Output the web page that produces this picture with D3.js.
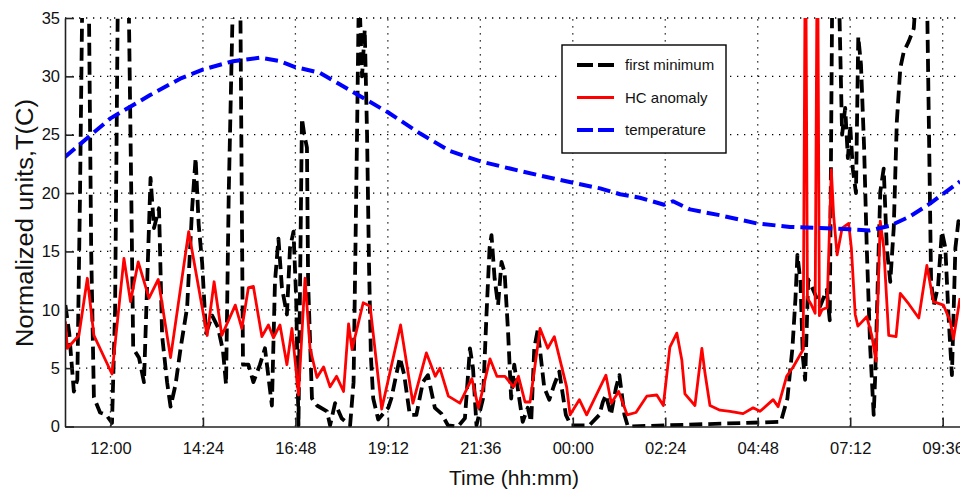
<!DOCTYPE html>
<html>
  <head>
    <meta charset="UTF-8">
    <title>First minimum / HC anomaly / temperature</title>
    <style>
      body {margin: 0; background: #fff;}
      svg {display: block; font-family: "Liberation Sans", Arial, sans-serif;}
      .grid line {stroke: #000; stroke-width: 1.3; stroke-dasharray: 1.3,5.7;}
      .axis path, .axis line {stroke: #222; stroke-width: 1.6;}
      .axis text {font-size: 16.5px; fill: #111; font-family: "Liberation Sans", Arial, sans-serif;}
      .label {font-size: 21px; fill: #111; text-anchor: middle;}
      .ylabel {font-size: 23.5px;}
      .legend text {font-size: 15px; fill: #111;}
    </style>
  </head>
  <body>
    <div id="chart"></div>
    <script src="https://d3js.org/d3.v7.min.js"></script>
    <script>

// time is clock hours counted from midnight of the first day (24+ = next day)
const xDomain = [10.82, 34.05];
const xTicks = [12, 14.4, 16.8, 19.2, 21.6, 24, 26.4, 28.8, 31.2, 33.6];
const yTicks = [0, 5, 10, 15, 20, 25, 30, 35];
const seriesNames = ["first minimum", "HC anomaly", "temperature"];

// temperature (blue dashed)
const tempTime = [10.82, 12.0, 13.03, 13.81, 14.41, 15.18, 15.88, 16.40, 16.79, 17.44, 17.96, 19.21, 20.04, 20.81, 21.62, 22.37, 23.15, 23.98, 24.71, 25.23, 25.74, 26.37, 26.60, 27.04, 27.82, 28.78, 29.64, 30.41, 31.17, 31.71, 32.23, 32.75, 33.27, 34.05];
const tempValue = [23.1, 26.4, 28.4, 29.8, 30.6, 31.3, 31.6, 31.3, 30.8, 30.3, 29.3, 26.9, 25.1, 23.6, 22.7, 22.1, 21.5, 20.9, 20.4, 19.9, 19.6, 19.0, 19.3, 18.6, 18.1, 17.4, 17.1, 17.0, 16.9, 16.8, 17.2, 18.0, 19.1, 21.0];

// HC anomaly (red)
const hcTime = [10.83, 10.88, 11.18, 11.40, 11.57, 12.04, 12.35, 12.52, 12.72, 13.00, 13.24, 13.56, 14.03, 14.51, 14.69, 14.89, 15.24, 15.41, 15.58, 15.71, 15.93, 16.10, 16.23, 16.40, 16.58, 16.71, 16.88, 17.05, 17.18, 17.36, 17.53, 17.70, 17.87, 18.05, 18.18, 18.27, 18.56, 18.74, 19.04, 19.53, 19.85, 20.20, 20.43, 20.55, 20.77, 21.07, 21.38, 21.55, 21.85, 22.03, 22.24, 22.46, 22.59, 22.76, 22.89, 23.15, 23.35, 23.52, 23.84, 23.93, 24.17, 24.36, 24.86, 25.00, 25.19, 25.41, 25.64, 25.92, 26.18, 26.35, 26.52, 26.70, 26.83, 26.91, 27.17, 27.35, 27.43, 27.56, 27.82, 28.08, 28.42, 28.68, 28.86, 29.20, 29.33, 29.55, 29.72, 29.98, 30.04, 30.09, 30.18, 30.29, 30.35, 30.40, 30.47, 30.60, 30.71, 30.77, 30.86, 30.99, 31.16, 31.23, 31.33, 31.40, 31.63, 31.76, 31.87, 31.98, 32.07, 32.20, 32.39, 32.50, 32.72, 32.98, 33.19, 33.36, 33.62, 33.80, 33.88, 34.05];
const hcValue = [9.0, 6.7, 7.8, 12.7, 7.8, 4.5, 14.4, 10.7, 14.1, 11.0, 12.6, 5.9, 16.7, 7.8, 12.4, 7.8, 10.4, 8.4, 11.9, 12.0, 7.7, 8.7, 7.6, 8.7, 5.3, 8.4, 2.7, 12.7, 6.7, 4.2, 5.1, 3.4, 4.3, 3.0, 8.8, 6.6, 10.6, 10.3, 1.5, 8.7, 2.0, 6.3, 4.3, 5.0, 2.6, 2.0, 4.1, 1.6, 5.8, 4.3, 4.3, 3.4, 4.3, 2.1, 2.1, 8.4, 6.7, 7.7, 3.4, 1.0, 2.3, 1.0, 4.4, 2.0, 3.0, 1.0, 1.2, 2.6, 2.7, 1.8, 6.8, 8.0, 5.7, 2.8, 1.8, 6.7, 4.6, 1.8, 1.4, 1.3, 1.1, 1.6, 1.3, 2.3, 1.7, 4.3, 5.1, 6.6, 45, 11.0, 10.5, 9.7, 45, 9.5, 10.0, 10.2, 22.0, 18.1, 14.7, 17.0, 17.4, 15.3, 9.6, 8.6, 9.4, 7.8, 5.6, 17.6, 15.3, 7.8, 7.7, 11.4, 10.5, 9.3, 13.8, 10.7, 10.4, 9.0, 7.5, 11.0];

// first minimum (black dashed)
const minTime = [10.83, 10.93, 11.05, 11.14, 11.21, 11.28, 11.43, 11.50, 11.57, 11.73, 11.89, 12.04, 12.12, 12.20, 12.46, 12.54, 12.59, 12.74, 12.87, 12.95, 13.04, 13.13, 13.26, 13.34, 13.47, 13.56, 13.69, 13.82, 13.99, 14.12, 14.21, 14.29, 14.38, 14.48, 14.64, 14.79, 14.92, 15.00, 15.07, 15.18, 15.37, 15.44, 15.58, 15.71, 15.88, 16.01, 16.19, 16.27, 16.36, 16.45, 16.58, 16.66, 16.75, 16.82, 16.88, 16.97, 17.03, 17.10, 17.13, 17.23, 17.36, 17.62, 17.70, 17.83, 18.00, 18.22, 18.31, 18.40, 18.45, 18.53, 18.60, 18.66, 18.71, 18.76, 18.82, 18.95, 19.21, 19.29, 19.51, 19.62, 19.77, 19.94, 20.11, 20.24, 20.42, 20.59, 20.76, 21.02, 21.20, 21.33, 21.41, 21.50, 21.67, 21.76, 21.84, 21.89, 21.97, 22.06, 22.15, 22.23, 22.32, 22.40, 22.48, 22.61, 22.70, 22.83, 22.92, 23.00, 23.09, 23.26, 23.39, 23.52, 23.65, 23.82, 23.95, 24.43, 24.69, 24.78, 24.86, 24.99, 25.12, 25.21, 25.34, 25.43, 29.40, 29.57, 29.70, 29.78, 29.83, 29.91, 29.97, 30.03, 30.11, 30.24, 30.42, 30.59, 30.67, 30.74, 30.89, 30.99, 31.07, 31.14, 31.20, 31.27, 31.35, 31.41, 31.48, 31.56, 31.63, 31.72, 31.81, 31.85, 31.98, 32.07, 32.15, 32.24, 32.33, 32.41, 32.50, 32.59, 32.72, 32.85, 32.93, 33.19, 33.30, 33.37, 33.48, 33.58, 33.67, 33.75, 33.84, 33.93, 34.01, 34.05];
const minValue = [10.4, 8.0, 3.0, 4.0, 20, 40, 40, 15, 2.5, 1.2, 1.0, 0.3, 10, 40, 40, 20, 6.7, 5.9, 3.8, 12, 21.3, 17, 18.7, 7.8, 3.8, 1.7, 3.6, 6.7, 10.2, 18.7, 23.0, 17.3, 14.0, 8.0, 9.5, 8.5, 6.5, 3.6, 20, 37, 37, 5.3, 5.3, 3.8, 5.3, 6.7, 1.8, 12.4, 16.1, 11.9, 9.6, 15.3, 16.7, 11.0, 0.1, 26.4, 25.0, 23.9, 12.4, 2.4, 1.8, 1.3, 0.1, 2.0, 0.7, 0.1, 3.8, 25, 38, 30, 34, 25, 14, 6, 2.4, 0.6, 1.6, 2.4, 5.9, 4.5, 1.0, 1.0, 3.8, 4.4, 1.6, 1.1, 0.1, 0, 0.7, 6.7, 5.0, 0.1, 2.4, 9.6, 15.3, 16.4, 12.7, 10.4, 14.1, 13.2, 8.1, 2.4, 5.3, 2.4, 0.4, 1.6, 0.4, 6.7, 8.3, 3.3, 2.3, 3.6, 4.7, 1.0, 0.1, 0.1, 1.0, 2.1, 2.7, 1.0, 3.3, 4.4, 1.0, 0, 0.4, 2.4, 6.7, 11.0, 14.7, 12.4, 6.0, 4.0, 12.6, 11.7, 10.3, 11.7, 9.1, 40, 40, 25.0, 27.3, 23, 25.8, 22, 20, 33.4, 31, 24, 15.3, 6.7, 1.0, 4.4, 20.1, 22.1, 15.3, 12.4, 17.0, 26.1, 30.7, 32.1, 33.0, 34.1, 38, 38, 12.4, 10.4, 12, 16.7, 15.3, 9.6, 4.4, 15.3, 17.6, 17.0];

const width = 960, height = 493;
const margin = {left: 65, right: 0, top: 18, bottom: 66.5};

const svg = d3.select("#chart").append("svg").attr("width", width).attr("height", height);
svg.append("rect").attr("width", width).attr("height", height).attr("fill", "#fff");

const x = d3.scaleLinear().domain(xDomain).range([margin.left, width - margin.right]);
const y = d3.scaleLinear().domain([0, 35]).range([height - margin.bottom, margin.top]);

function hhmm(h) {
  const m = Math.round(h * 60) % 1440;
  return String(Math.floor(m / 60)).padStart(2, "0") + ":" + String(m % 60).padStart(2, "0");
}

// dotted grid
const grid = svg.append("g").attr("class", "grid");
grid.selectAll(".gx").data(xTicks).join("line")
  .attr("x1", d => x(d)).attr("x2", d => x(d))
  .attr("y1", y(0)).attr("y2", y(35));
grid.selectAll(".gy").data(yTicks.slice(1)).join("line")
  .attr("class", "gy")
  .attr("x1", x(xDomain[0])).attr("x2", x(xDomain[1]))
  .attr("y1", d => y(d)).attr("y2", d => y(d));

svg.append("defs").append("clipPath").attr("id", "plot")
  .append("rect")
  .attr("x", margin.left).attr("y", margin.top)
  .attr("width", width - margin.left - margin.right)
  .attr("height", y(0) - margin.top + 1);

const line = d3.line().x(d => x(d[0])).y(d => y(d[1]));
const lines = svg.append("g").attr("clip-path", "url(#plot)")
  .attr("fill", "none").attr("stroke-linejoin", "round");

lines.append("path")
  .attr("d", line(d3.zip(minTime, minValue)))
  .attr("stroke", "#000").attr("stroke-width", 3.8).attr("stroke-dasharray", "13,6");

lines.append("path")
  .attr("d", line(d3.zip(hcTime, hcValue)))
  .attr("stroke", "#ff0000").attr("stroke-width", 2.8);

lines.append("path")
  .attr("d", line(d3.zip(tempTime, tempValue)))
  .attr("stroke", "#0000ff").attr("stroke-width", 4).attr("stroke-dasharray", "13,6");

// axes, ticks pointing inward
svg.append("g")
  .attr("class", "axis")
  .attr("transform", `translate(0,${y(0)})`)
  .call(d3.axisBottom(x).tickValues(xTicks).tickFormat(hhmm).tickSizeInner(-9).tickSizeOuter(0).tickPadding(16));

svg.append("g")
  .attr("class", "axis")
  .attr("transform", `translate(${margin.left},0)`)
  .call(d3.axisLeft(y).tickValues(yTicks).tickSizeInner(-9).tickSizeOuter(0).tickPadding(5));

svg.append("text")
  .attr("class", "label")
  .attr("x", 514)
  .attr("y", 485)
  .text("Time (hh:mm)");

svg.append("text")
  .attr("class", "label ylabel")
  .attr("transform", "rotate(-90)")
  .attr("x", -223)
  .attr("y", 33)
  .attr("textLength", 248)
  .attr("lengthAdjust", "spacingAndGlyphs")
  .text("Normalized units,T(C)");

// legend
const legend = svg.append("g").attr("class", "legend");
legend.append("rect")
  .attr("x", 562).attr("y", 45).attr("width", 164).attr("height", 108)
  .attr("fill", "#fff").attr("stroke", "#000").attr("stroke-width", 1.4);

const legendStyle = [
  {color: "#000", w: 3.8, dash: "16,5"},
  {color: "#ff0000", w: 2.8, dash: null},
  {color: "#0000ff", w: 4, dash: "16,5"}
];
const rowY = d3.scalePoint().domain(seriesNames).range([65, 130]);

seriesNames.forEach((name, i) => {
  const s = legendStyle[i];
  legend.append("line")
    .attr("x1", 577).attr("x2", 614)
    .attr("y1", rowY(name)).attr("y2", rowY(name))
    .attr("stroke", s.color).attr("stroke-width", s.w)
    .attr("stroke-dasharray", s.dash);
  legend.append("text")
    .attr("x", 625).attr("y", rowY(name)).attr("dy", "0.35em")
    .text(name);
});

    </script>
  </body>
</html>
